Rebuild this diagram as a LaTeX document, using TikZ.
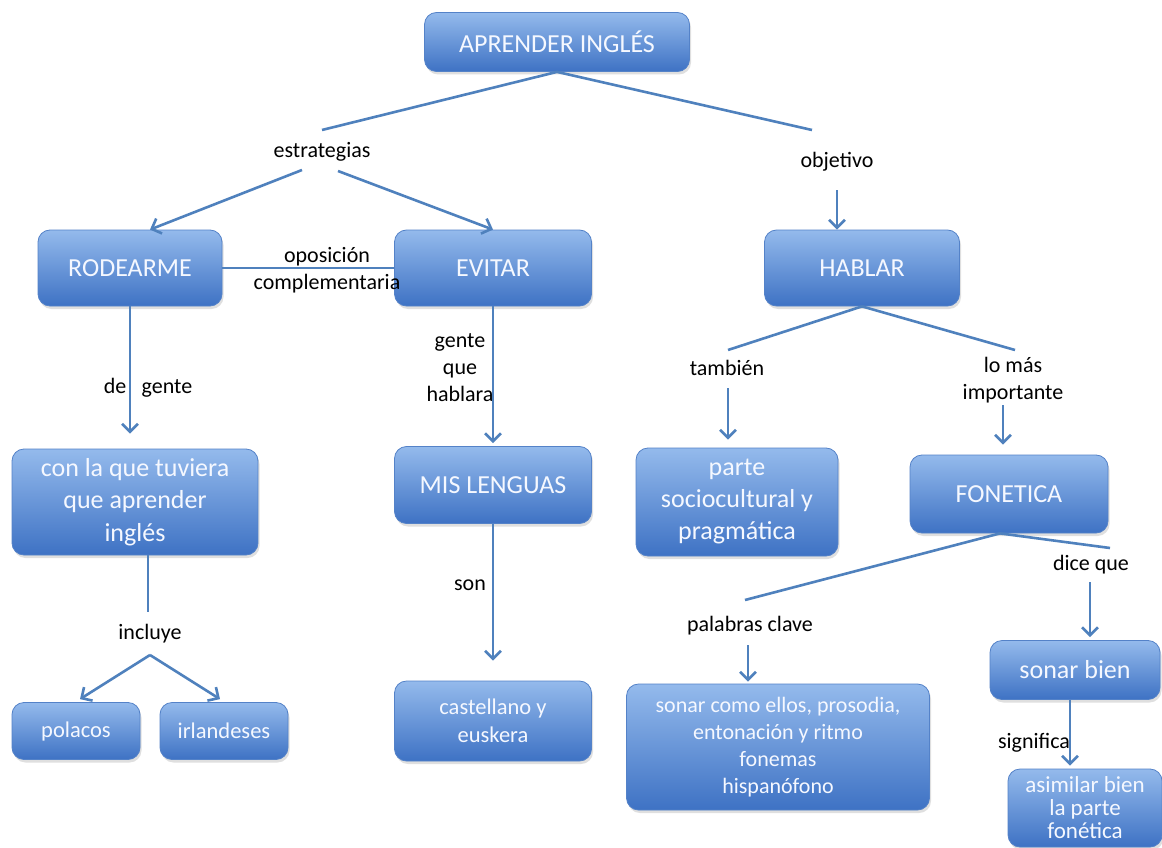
\documentclass[tikz,border=0pt]{standalone}
\usepackage{fontspec}
\setmainfont{Carlito}
\usetikzlibrary{arrows.meta,shadows,calc}
\definecolor{boxtop}{RGB}{148,186,236}
\definecolor{boxbot}{RGB}{62,114,196}
\definecolor{boxline}{RGB}{84,130,200}
\definecolor{linecol}{RGB}{79,129,189}
\definecolor{boxtext}{RGB}{245,248,255}
\tikzset{
 box/.style={rectangle, rounded corners=12pt, draw=boxline, line width=0.8pt,
   top color=boxtop, bottom color=boxbot, text=boxtext, align=center, inner sep=4pt,
   drop shadow={opacity=0.25, shadow xshift=1.5pt, shadow yshift=-3pt},
   font=\fontsize{26}{31}\selectfont},
 sbox/.style={box, font=\fontsize{22.5}{27.5}\selectfont},
 lbl/.style={text=black, align=center, inner sep=0pt, font=\fontsize{22}{27}\selectfont},
 ln/.style={draw=linecol, line width=2.6pt},
 arr/.style={ln, -{Straight Barb[length=8pt,width=16pt]}},
}
\begin{document}
\begin{tikzpicture}[x=1pt,y=-1pt]
\fill[white] (0,0) rectangle (1162,848);
\useasboundingbox (0,0) rectangle (1162,848);
\clip (0,0) rectangle (1162,848);
% boxes
\node[box, minimum width=265pt, minimum height=59pt] (apr) at (557,42) {APRENDER INGLÉS};
\node[box, minimum width=184pt, minimum height=76pt] (rod) at (130,268) {RODEARME};
\node[box, minimum width=197pt, minimum height=76pt] (evi) at (493,268) {EVITAR};
\node[box, minimum width=195pt, minimum height=76pt] (hab) at (862,268) {HABLAR};
\node[box, font=\fontsize{26}{32.5}\selectfont, minimum width=246pt, minimum height=106pt] (con) at (135,502) {con la que tuviera\\que aprender\\inglés};
\node[box, minimum width=197pt, minimum height=77pt] (mis) at (493,485) {MIS LENGUAS};
\node[box, font=\fontsize{26}{32}\selectfont, minimum width=202pt, minimum height=108pt] (par) at (737,502) {parte\\sociocultural y\\pragmática};
\node[box, minimum width=198pt, minimum height=78pt] (fon) at (1009,494) {FONETICA};
\node[sbox, minimum width=128pt, minimum height=57pt] (pol) at (76,731) {polacos};
\node[sbox, minimum width=128pt, minimum height=57pt] (irl) at (224,731) {irlandeses};
\node[sbox, minimum width=197pt, minimum height=80pt] (cas) at (493,721) {castellano y\\euskera};
\node[sbox, font=\fontsize{22}{27}\selectfont, minimum width=303pt, minimum height=126pt] (son) at (778,747) {sonar como ellos, prosodia,\\entonación y ritmo\\fonemas\\hispanófono};
\node[box, minimum width=170pt, minimum height=59pt] (sb) at (1075,670) {sonar bien};
\node[sbox, font=\fontsize{23}{23}\selectfont, minimum width=154pt, minimum height=78pt] (asi) at (1085,808) {asimilar bien\\la parte\\fonética};
% labels
\node[lbl] (estr) at (322,152) {estrategias};
\node[lbl] (obj) at (837,162) {objetivo};
\node[lbl] (opos) at (327,270) {oposición\\complementaria};
\node[lbl] (deg) at (148,388) {de\hspace{0.7em}gente};
\node[lbl] (gqh) at (460,368) {gente\\que\\hablara};
\node[lbl] (sonl) at (470,585) {son};
\node[lbl] (incl) at (150,634) {incluye};
\node[lbl] (tamb) at (727,368) {también};
\node[lbl] (lomas) at (1013,380) {lo más\\importante};
\node[lbl] (pal) at (750,626) {palabras clave};
\node[lbl] (dice) at (1091,565) {dice que};
\node[lbl] (sig) at (1034,743) {significa};
% connectors
\draw[ln] (apr.south) -- ($(estr)+(0,-22)$);
\draw[ln] (apr.south) -- ($(obj)+(-25,-32)$);
\draw[arr] ($(estr)+(-20,18)$) -- ($(rod.north)+(20,0)$);
\draw[arr] ($(estr)+(16,19)$) -- (evi.north);
\draw[arr] ($(obj)+(0,28)$) -- (obj |- hab.north);
\draw[ln] (rod.east) -- (evi.west);
\draw[arr] (rod.south) -- ($(rod.south |- con.north)+(0,-15)$);
\draw[ln] ($(con.south)+(13,0)$) -- ($(incl)+(-2,-22)$);
\draw[arr] ($(incl)+(0,21)$) -- ($(pol.north)+(4,-3)$);
\draw[arr] ($(incl)+(0,21)$) -- ($(irl.north)+(-4,-3)$);
\draw[arr] (evi.south) -- ($(mis.north)+(0,-3)$);
\draw[arr] (mis.south) -- ($(cas.north)+(0,-20)$);
\draw[ln] (hab.south) -- ($(tamb)+(1,-18)$);
\draw[ln] (hab.south) -- ($(lomas)+(2,-30)$);
\draw[arr] ($(tamb)+(1,20)$) -- ($(tamb |- par.north)+(1,-8)$);
\draw[arr] ($(lomas)+(-10,25)$) -- ($(lomas |- fon.north)+(-10,-10)$);
\draw[ln] ($(fon.south)+(-9,0)$) -- ($(pal)+(-5,-26)$);
\draw[ln] ($(fon.south)+(-9,0)$) -- ($(dice)+(19,-17)$);
\draw[arr] ($(pal)+(-2,19)$) -- ($(pal |- son.north)+(-2,-2)$);
\draw[arr] ($(dice)+(-1,17)$) -- ($(dice |- sb.north)+(-1,-3)$);
\draw[arr] ($(sb.south)+(-5,0)$) -- ($(sb.south |- asi.north)+(-5,-3)$);
\end{tikzpicture}
\end{document}
